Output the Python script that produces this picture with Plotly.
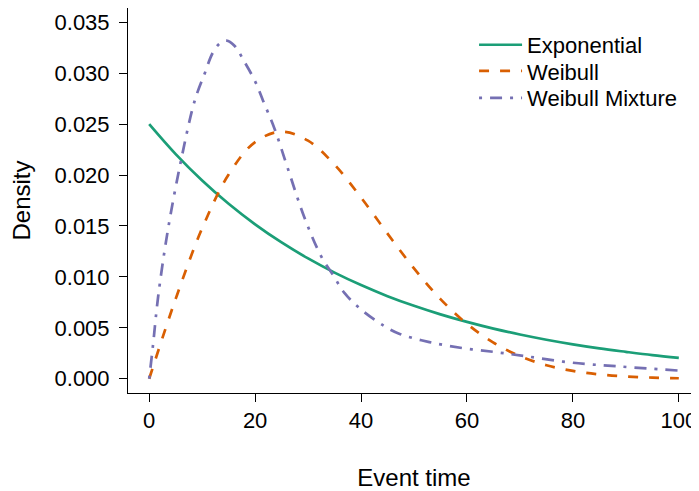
import plotly.graph_objects as go

# Event time grid for the parametric curves
t_grid = [0, 5, 10, 15, 20, 25, 30, 35, 40, 45, 50, 55, 60, 65, 70, 75, 80, 85, 90, 95, 100]

exponential = [0.02500, 0.02206, 0.01947, 0.01718, 0.01516, 0.01338, 0.01181, 0.01042,
               0.00920, 0.00811, 0.00716, 0.00632, 0.00558, 0.00492, 0.00434, 0.00383,
               0.00338, 0.00298, 0.00264, 0.00232, 0.00205]

weibull = [0.00000, 0.00784, 0.01477, 0.02005, 0.02324, 0.02426, 0.02337, 0.02102,
           0.01779, 0.01425, 0.01083, 0.00782, 0.00539, 0.00354, 0.00222, 0.00133,
           0.00077, 0.00042, 0.00022, 0.00011, 0.00005]

# Weibull mixture
t_mix = [0, 0.7, 1.7, 3.5, 6, 8.6, 10.5, 12, 13.3, 14.6, 16.1, 18, 20, 21.5, 23.7, 26.2,
         29.4, 32.5, 34.7, 36.9, 40, 44.3, 47.3, 52.9, 59.3, 65.6, 71.2, 79.4, 88.9, 100]
mixture = [0.0000, 0.0032, 0.0081, 0.0145, 0.0214, 0.0273, 0.0300, 0.0320, 0.0329, 0.0332,
           0.0327, 0.0311, 0.0292, 0.0273, 0.0245, 0.0206, 0.0157, 0.0120, 0.0102,
           0.0084, 0.0068, 0.0052, 0.0044, 0.0036, 0.0030, 0.0026, 0.0022, 0.0016,
           0.0012, 0.0008]

x_ticks = [0, 20, 40, 60, 80, 100]
y_ticks = [0.000, 0.005, 0.010, 0.015, 0.020, 0.025, 0.030, 0.035]
y_tick_labels = ["0.000", "0.005", "0.010", "0.015", "0.020", "0.025", "0.030", "0.035"]

fig = go.Figure()
fig.add_trace(go.Scatter(x=t_grid, y=exponential, mode="lines", name="Exponential",
                         legend="legend",
                         line=dict(color="#1B9E77", width=2.7, shape="spline")))
fig.add_trace(go.Scatter(x=t_grid, y=weibull, mode="lines", name="Weibull",
                         legend="legend2",
                         line=dict(color="#D95F02", width=2.7, shape="spline", dash="10px,11px")))
fig.add_trace(go.Scatter(x=t_mix, y=mixture, mode="lines", name="Weibull Mixture",
                         legend="legend3",
                         line=dict(color="#7570B3", width=2.7, shape="spline",
                                   dash="3px,8px,12px,8px")))

font_family = "Liberation Sans, Arial, sans-serif"
leg_common = dict(x=0.605, xanchor="left", yanchor="middle", itemwidth=43,
                  bgcolor="rgba(0,0,0,0)", borderwidth=0, font=dict(size=22))
fig.update_layout(
    width=699, height=491,
    margin=dict(l=120, r=7, t=0, b=106),
    paper_bgcolor="white", plot_bgcolor="white",
    font=dict(family=font_family, size=22, color="black"),
    showlegend=True,
    legend=dict(y=0.904, **leg_common),
    legend2=dict(y=0.836, **leg_common),
    legend3=dict(y=0.766, **leg_common),
)
fig.update_xaxes(range=[-4, 104], tickvals=x_ticks, ticks="outside", ticklen=8,
                 tickcolor="black", showline=True, linecolor="black", linewidth=1,
                 mirror=True, showgrid=False, zeroline=False, automargin=False,
                 title=dict(text="Event time", standoff=36, font=dict(size=24)))
fig.update_yaxes(range=[-0.0014, 0.0364], tickvals=y_ticks, ticktext=y_tick_labels,
                 ticks="outside", ticklen=8, tickcolor="black", showline=True,
                 linecolor="black", linewidth=1, mirror=True, showgrid=False,
                 zeroline=False, automargin=False, ticklabelstandoff=5,
                 title=dict(text="Density", standoff=17, font=dict(size=24)))

fig.write_html("out.html")
